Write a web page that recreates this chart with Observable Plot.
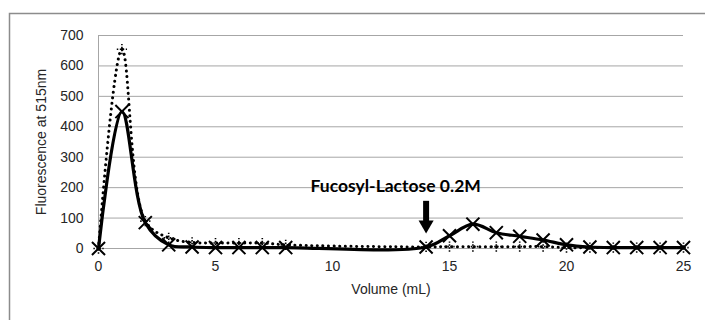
<!DOCTYPE html>
<html>
<head>
<meta charset="utf-8">
<script src="https://cdn.jsdelivr.net/npm/d3@7"></script>
<script src="https://cdn.jsdelivr.net/npm/@observablehq/plot@0.6"></script>
<style>
  html, body { margin: 0; padding: 0; background: #fff; }
  #chart { width: 705px; height: 320px; overflow: hidden; }
</style>
</head>
<body>
<div id="chart"></div>
<script>
// Series 1: solid line, X markers
const volume1 = [0, 1, 2, 3, 4, 5, 6, 7, 8, 14, 15, 16, 17, 18, 19, 20, 21, 22, 23, 24, 25];
const fluor1  = [0, 450, 85, 12, 5, 3, 3, 3, 3, 5, 42, 80, 52, 40, 28, 12, 5, 3, 3, 3, 3];
// Series 2: dotted line, + markers
const volume2 = [0, 1, 2, 3, 4, 5, 6, 7, 8, 14, 15, 16, 17, 18, 19, 20, 21, 22, 23, 24, 25];
const fluor2  = [0, 655, 90, 35, 20, 18, 18, 18, 12, 5, 6, 6, 6, 6, 6, 3, 3, 3, 3, 3, 3];

const xTicks = [0, 5, 10, 15, 20, 25];
const yTicks = [0, 100, 200, 300, 400, 500, 600, 700];

const annotation = [{x: 12.7, y: 203, text: "Fucosyl-Lactose 0.2M"}];
const arrowAt = [{x: 14, y1: 155, y2: 85, tip: 78}];

const s1 = volume1.map((v, i) => ({x: v, y: fluor1[i]}));
const s2 = volume2.map((v, i) => ({x: v, y: fluor2[i]}));

const chart = Plot.plot({
  width: 705,
  height: 320,
  marginLeft: 98,
  marginRight: 22,
  marginTop: 35,
  marginBottom: 72,
  style: {fontFamily: "Liberation Sans, Arial, sans-serif", fontSize: "14px", color: "#262626", background: "#fff"},
  x: {domain: [0, 25]},
  y: {domain: [0, 700]},
  marks: [
    Plot.gridY(yTicks, {stroke: "#a6a6a6", strokeOpacity: 1, strokeWidth: 1}),
    Plot.ruleX([0], {stroke: "#a6a6a6", strokeWidth: 1}),
    Plot.axisY({ticks: yTicks, tickSize: 0, tickPadding: 15, label: "Fluorescence at 515nm", labelAnchor: "center", labelArrow: "none", labelOffset: 62, fontSize: 14, fontFamily: "Liberation Sans, Arial, sans-serif"}),
    Plot.axisX({ticks: xTicks, tickSize: 0, tickPadding: 13, label: "Volume (mL)", labelAnchor: "center", labelArrow: "none", labelOffset: 45, fontSize: 14, fontFamily: "Liberation Sans, Arial, sans-serif"}),
    Plot.line(s2, {x: "x", y: "y", curve: "catmull-rom", stroke: "black", strokeWidth: 3, strokeDasharray: "0.1,5.5", strokeLinecap: "round"}),
    Plot.line(s1, {x: "x", y: "y", curve: "catmull-rom", stroke: "black", strokeWidth: 3.2}),
    Plot.dot(s1, {x: "x", y: "y", symbol: "times", r: 6, stroke: "black", strokeWidth: 2}),
    Plot.dot(s2, {x: "x", y: "y", symbol: "plus", r: 3.4, stroke: "black", strokeWidth: 1.6, strokeDasharray: "1.5,1.5"}),
    Plot.text(annotation, {x: "x", y: "y", text: "text", fontFamily: "Lato, 'Open Sans', sans-serif", fontWeight: "bold", fontSize: 17.5, fill: "black"}),
    Plot.ruleX(arrowAt, {x: "x", y1: "y1", y2: "y2", stroke: "black", strokeWidth: 6}),
    Plot.dot(arrowAt, {x: "x", y: "tip", symbol: "triangle", rotate: 180, r: 5.6, fill: "black", stroke: "none"})
  ]
});

document.getElementById("chart").appendChild(chart);
d3.select(chart).append("rect")
  .attr("x", 9.5).attr("y", 13.5).attr("width", 720).attr("height", 330)
  .attr("fill", "none").attr("stroke", "#8c8c8c").attr("stroke-width", 1.5);
</script>
</body>
</html>
